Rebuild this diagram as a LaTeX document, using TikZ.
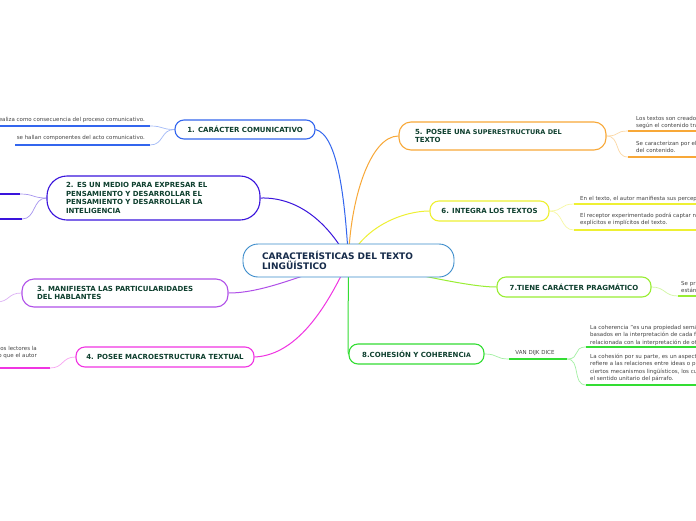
\documentclass[tikz,border=0pt]{standalone}
\usepackage{fontspec}
\setmainfont{DejaVu Sans}
\usepackage{tikz}
\usetikzlibrary{backgrounds}
\definecolor{rootline}{HTML}{3A8BCB}
\definecolor{roottext}{HTML}{162B4A}
\definecolor{topictext}{HTML}{0E3F2E}
\definecolor{leaftext}{HTML}{444444}
\definecolor{one}{HTML}{3366EE}
\definecolor{two}{HTML}{3A14DC}
\definecolor{three}{HTML}{B050E8}
\definecolor{four}{HTML}{F035E2}
\definecolor{five}{HTML}{F8A838}
\definecolor{six}{HTML}{EEF033}
\definecolor{seven}{HTML}{99EE33}
\definecolor{eight}{HTML}{33DD33}
\tikzset{
  topic/.style={draw, fill=white, rounded corners=9pt, line width=1.1pt, text=topictext,
    font=\fontsize{7}{8.7}\selectfont\bfseries, inner xsep=10pt, inner ysep=0pt},
  rootnode/.style={topic, draw=rootline, text=roottext, rounded corners=15pt, line width=0.9pt,
    font=\fontsize{9}{10.5}\selectfont\bfseries},
  leaf/.style={font=\fontsize{5.5}{7.2}\selectfont, text=leaftext, inner sep=0pt},
  branch/.style={line width=1pt},
  twig/.style={line width=0.7pt},
  underbar/.style={line width=2pt},
}

\begin{document}
\begin{tikzpicture}[x=1pt,y=-1pt]
\useasboundingbox (0,0) rectangle (696,520);
\clip (0,0) rectangle (696,520);

% central topic
\node[rootnode, minimum width=211pt, minimum height=33pt, inner xsep=19pt, text width=173pt, align=left]
  (root) at (348.5,260.5) {CARACTERÍSTICAS DEL TEXTO\\LINGÜÍSTICO};

% main topics
\node[topic, draw=one, minimum width=140pt, minimum height=19pt, align=center] (n1) at (245,129.5) {1. CARÁCTER COMUNICATIVO};
\node[topic, draw=two, rounded corners=20pt, minimum width=213pt, minimum height=44pt, inner xsep=19pt, text width=175pt, align=left]
  (n2) at (153.5,198) {2. ES UN MEDIO PARA EXPRESAR EL\\PENSAMIENTO Y DESARROLLAR EL\\PENSAMIENTO Y DESARROLLAR LA\\INTELIGENCIA};
\node[topic, draw=three, rounded corners=12pt, minimum width=206pt, minimum height=28pt, inner xsep=15pt, text width=176pt, align=left]
  (n3) at (125,293) {3. MANIFIESTA LAS PARTICULARIDADES\\DEL HABLANTES};
\node[topic, draw=four, minimum width=178pt, minimum height=20pt, align=center] (n4) at (165,357) {4. POSEE MACROESTRUCTURA TEXTUAL};
\node[topic, draw=five, rounded corners=12pt, minimum width=207pt, minimum height=28pt, inner xsep=16pt, text width=175pt, align=left]
  (n5) at (502.5,136) {5. POSEE UN{\fontsize{6.5}{8.7}\selectfont A SUPERESTRUCTURA DEL}\\TEXTO};
\node[topic, draw=six, minimum width=119pt, minimum height=20pt, align=center] (n6) at (489.5,211) {6. INTEGRA LOS TEXTOS};
\node[topic, draw=seven, minimum width=154pt, minimum height=20pt, align=center] (n7) at (574,287) {7.TIENE CARÁCTER PRAGMÁTICO};
\node[topic, draw=eight, minimum width=135pt, minimum height=20pt, align=center] (n8) at (416.5,354) {8.COHESIÓN Y COHERENC{\fontsize{6.2}{8.7}\selectfont IA}};

% subtopics
\node[leaf, anchor=north east, align=right] (t1a) at (145,117.3) {Se realiza como consecuencia del proceso comunicativo.};
\node[leaf, anchor=north east, align=right] (t1b) at (145,135.3) {se hallan componentes del acto comunicativo.};
\node[leaf, anchor=north east, align=right] (t4) at (37,346) {los lectores la\\lo que el autor};
\node[leaf, anchor=north west, align=left] (t5a) at (636,116) {Los textos son creados\\según el contenido tra};
\node[leaf, anchor=north west, align=left] (t5b) at (636,141) {Se caracterizan por el\\del contenido.};
\node[leaf, anchor=north west, align=left] (t6a) at (580,196) {En el texto, el autor manifiesta sus percep};
\node[leaf, anchor=north west, align=left] (t6b) at (580,213) {El receptor experimentado podrá captar n\\explícitos e implícitos del texto.};
\node[leaf, anchor=north west, align=left] (t7) at (681,281) {Se pr\\están};
\node[leaf] (t8) at (535,353.5) {VAN DIJK DICE};
\node[leaf, anchor=north west, align=left] (t8a) at (590,325) {La coherencia "es una propiedad semá\\basados en la interpretación de cada f\\relacionada con la interpretación de ot};
\node[leaf, anchor=north west, align=left] (t8b) at (590,354) {La cohesión por su parte, es un aspect\\refiere a las relaciones entre ideas o p\\ciertos mecanismos lingüísticos, los cu\\el sentido unitario del párrafo.};

\coordinate (l1a) at (150,126);
\coordinate (l1b) at (150,145);
\coordinate (l2a) at (20,194);
\coordinate (l2b) at (22,219);
\coordinate (l3a) at (-4,302);
\coordinate (l4a) at (50,368);
\coordinate (l5a) at (628,131);
\coordinate (l5b) at (628,157);
\coordinate (l6a) at (574,204);
\coordinate (l6b) at (574,230);
\coordinate (l7a) at (678,296);
\coordinate (l8) at (509,359);
\coordinate (l8e) at (567,359);
\coordinate (l8a) at (586,347);
\coordinate (l8b) at (586,385);

\begin{scope}[on background layer]
\fill[white] (0,0) rectangle (696,520);
\clip (0,0) rectangle (696,520);
% branches
\draw[branch, one] (n1.east) .. controls (338,135) and (345,200) .. (root.center);
\draw[branch, two] (n2.east) .. controls (300,197) and (330,225) .. (root.center);
\draw[branch, three] (n3.east) .. controls (262,293) and (300,276) .. (root.center);
\draw[branch, four] (n4.east) .. controls (300,355) and (330,300) .. (root.center);
\draw[branch, five] (root.center) .. controls (350,200) and (370,136) .. (n5.west);
\draw[branch, six] (root.center) .. controls (365,225) and (405,211) .. (n6.west);
\draw[branch, seven] (root.center) .. controls (420,275) and (470,287) .. (n7.west);
\draw[branch, eight] (root.center) -- (348,340) .. controls (348,352) .. (n8.west);
% twigs
\foreach \a/\b/\c in {n1.west/l1a/one, n1.west/l1b/one, n2.west/l2a/two, n2.west/l2b/two,
                      n3.west/l3a/three, n4.west/l4a/four}
  \draw[twig, \c!45] (\a) .. controls +(-14,0) and +(14,0) .. (\b);
\foreach \a/\b/\c in {n5.east/l5a/five, n5.east/l5b/five, n6.east/l6a/six, n6.east/l6b/six,
                      n7.east/l7a/seven, n8.east/l8/eight, l8e/l8a/eight, l8e/l8b/eight}
  \draw[twig, \c!45] (\a) .. controls +(14,0) and +(-14,0) .. (\b);
% underbars
\draw[underbar, one] (l1a) -- (-5,126);
\draw[underbar, one] (l1b) -- (15,145);
\draw[underbar, two] (l2a) -- (-5,194);
\draw[underbar, two] (l2b) -- (-5,219);
\draw[underbar, four] (l4a) -- (-5,368);
\draw[underbar, five] (l5a) -- (700,131);
\draw[underbar, five] (l5b) -- (700,157);
\draw[underbar, six] (l6a) -- (700,204);
\draw[underbar, six] (l6b) -- (700,230);
\draw[underbar, seven] (l7a) -- (700,296);
\draw[underbar, eight] (l8) -- (l8e);
\draw[underbar, eight] (l8a) -- (700,347);
\draw[underbar, eight] (l8b) -- (700,385);
\end{scope}
\end{tikzpicture}
\end{document}
